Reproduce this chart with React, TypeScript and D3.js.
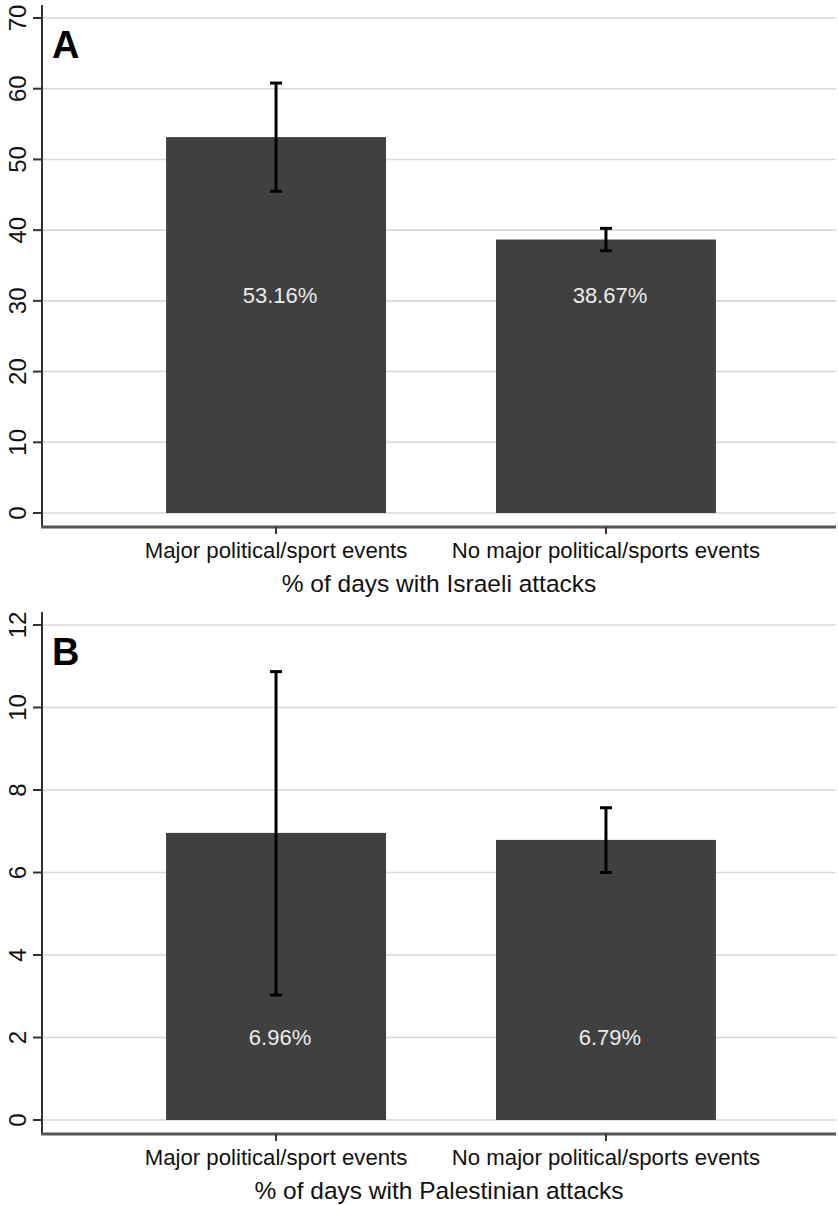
import React from 'react';
import { scaleBand, scaleLinear } from 'd3';

const categories = ['Major political/sport events', 'No major political/sports events'];

const israeliPct = [53.16, 38.67];
const israeliLow = [45.5, 37.1];
const israeliHigh = [60.8, 40.25];
const israeliTicks = [0, 10, 20, 30, 40, 50, 60, 70];

const palestinianPct = [6.96, 6.79];
const palestinianLow = [3.03, 6.0];
const palestinianHigh = [10.87, 7.57];
const palestinianTicks = [0, 2, 4, 6, 8, 10, 12];

const W = 838;
const H = 1205;
const PANEL_H = 607;
const FONT = '"Liberation Sans", Arial, Helvetica, sans-serif';

type PanelProps = {
    letter: string,
    title: string,
    values: number[],
    low: number[],
    high: number[],
    ticks: number[],
    labelAt: number,
    offsetY: number
};

function Panel({ letter, title, values, low, high, ticks, labelAt, offsetY }: PanelProps) {
    const left = 42;
    const right = 836;
    const yZero = 513;
    const yTop = 18;
    const axisTop = 5;
    const axisBottom = 527;

    const x = scaleBand<string>()
        .domain(categories)
        .range([left + 2, right + 2])
        .paddingInner(1 / 3)
        .paddingOuter(0.37);

    const y = scaleLinear()
        .domain([0, ticks[ticks.length - 1]])
        .range([yZero, yTop]);

    const bw = x.bandwidth();

    return (
        <g transform={`translate(0,${offsetY})`}>
            {/* gridlines */}
            {ticks.map(t => (
                <line key={'g' + t} x1={left} x2={right} y1={y(t)} y2={y(t)}
                    stroke="#d8d8d8" strokeWidth={1.6} />
            ))}
            {/* bars */}
            {categories.map((c, i) => (
                <rect key={'b' + c} x={x(c)} y={y(values[i])} width={bw}
                    height={y(0) - y(values[i])} fill="#404040" />
            ))}
            {/* value labels */}
            {categories.map((c, i) => (
                <text key={'v' + c} x={(x(c) as number) + bw / 2 + 4} y={y(labelAt)} dy="0.36em"
                    textAnchor="middle" fontSize={22} fill="#ececec" fontFamily={FONT}>
                    {values[i].toFixed(2) + '%'}
                </text>
            ))}
            {/* error bars */}
            {categories.map((c, i) => {
                const cx = (x(c) as number) + bw / 2;
                return (
                    <g key={'e' + c} stroke="#000" strokeWidth={3}>
                        <line x1={cx} x2={cx} y1={y(low[i])} y2={y(high[i])} />
                        <line x1={cx - 6} x2={cx + 6} y1={y(low[i])} y2={y(low[i])} />
                        <line x1={cx - 6} x2={cx + 6} y1={y(high[i])} y2={y(high[i])} />
                    </g>
                );
            })}
            {/* y axis */}
            <line x1={left} x2={left} y1={axisTop} y2={axisBottom} stroke="#333" strokeWidth={2} />
            {ticks.map(t => (
                <g key={'t' + t} transform={`translate(0,${y(t)})`}>
                    <line x1={33} x2={left} y1={0} y2={0} stroke="#333" strokeWidth={2} />
                    <text transform="translate(17,0) rotate(-90)" textAnchor="middle" dy="0.36em"
                        fontSize={24} fill="#111" fontFamily={FONT}>{t}</text>
                </g>
            ))}
            {/* x axis */}
            <line x1={left - 1} x2={right} y1={axisBottom} y2={axisBottom} stroke="#555" strokeWidth={3} />
            {categories.map(c => {
                const cx = (x(c) as number) + bw / 2;
                return (
                    <g key={'x' + c}>
                        <line x1={cx} x2={cx} y1={axisBottom} y2={axisBottom + 7} stroke="#333" strokeWidth={2} />
                        <text x={cx} y={558} textAnchor="middle" fontSize={22.2} fill="#111" fontFamily={FONT}>{c}</text>
                    </g>
                );
            })}
            <text x={(left + right) / 2} y={592} textAnchor="middle" fontSize={24.5} fill="#111" fontFamily={FONT}>{title}</text>
            <text x={52} y={58} fontSize={38} fontWeight="bold" fill="#000" fontFamily={FONT}>{letter}</text>
        </g>
    );
}

export default function App() {
    return (
        <div style={{ position: 'absolute', left: 0, top: 0 }}>
            <svg width={W} height={H} style={{ display: 'block', background: '#fff' }}>
                <Panel letter="A" title="% of days with Israeli attacks" values={israeliPct}
                    low={israeliLow} high={israeliHigh} ticks={israeliTicks} labelAt={30.8} offsetY={0} />
                <Panel letter="B" title="% of days with Palestinian attacks" values={palestinianPct}
                    low={palestinianLow} high={palestinianHigh} ticks={palestinianTicks} labelAt={2.0} offsetY={PANEL_H} />
            </svg>
        </div>
    );
}
